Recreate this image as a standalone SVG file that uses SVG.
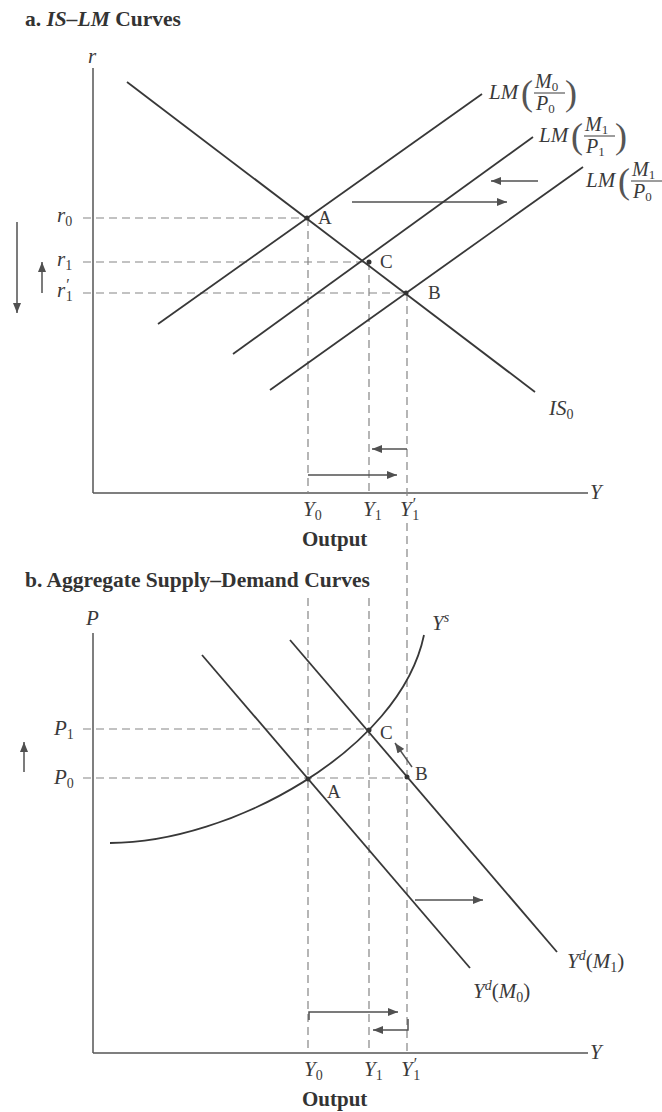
<svg xmlns="http://www.w3.org/2000/svg" width="662" height="1112" viewBox="0 0 662 1112">
<defs>
<style>
.ax{stroke:#555;stroke-width:1.5;fill:none}
.cv{stroke:#383838;stroke-width:1.8;fill:none}
.ds{stroke:#858585;stroke-width:1.2;stroke-dasharray:8 5;fill:none}
.ar{stroke:#505050;stroke-width:1.5;fill:none;marker-end:url(#ah)}
.t{font-family:"Liberation Serif","Times New Roman",serif;fill:#3a3a3a}
.i{font-style:italic}
.n{font-style:normal}
.b{font-weight:bold;fill:#333}
.dot{fill:#333}
.bar{stroke:#3a3a3a;stroke-width:1}
.pa{font-size:36px;fill:#555}
</style>
<marker id="ah" viewBox="0 0 10 8" refX="10" refY="4" markerWidth="11" markerHeight="8" markerUnits="userSpaceOnUse" orient="auto">
<path d="M0,0 L10,4 L0,8 z" fill="#505050"/>
</marker>
</defs>
<rect width="662" height="1112" fill="#fff"/>

<!-- Titles -->
<text id="title-a" class="t b" x="25" y="26" font-size="21.5">a. <tspan font-style="italic">IS–LM</tspan> Curves</text>
<text id="title-b" class="t b" x="25" y="587" font-size="21.5">b.  Aggregate Supply–Demand Curves</text>

<!-- Panel a axes -->
<g id="axes-a">
<line class="ax" x1="93" y1="68" x2="93" y2="493"/>
<line class="ax" x1="93" y1="493" x2="588" y2="493"/>
<text class="t i" x="88" y="63" font-size="21">r</text>
<text class="t i" x="590" y="499" font-size="21">Y</text>
<text class="t b" x="302" y="546" font-size="21">Output</text>
</g>

<!-- Panel b axes -->
<g id="axes-b">
<line class="ax" x1="93" y1="633" x2="93" y2="1053"/>
<line class="ax" x1="93" y1="1053" x2="588" y2="1053"/>
<text class="t i" x="86" y="625" font-size="21">P</text>
<text class="t i" x="590" y="1059" font-size="21">Y</text>
<text class="t b" x="302" y="1106" font-size="21">Output</text>
</g>

<!-- Connectors / guide lines -->
<g id="connectors">
<line class="ds" x1="83" y1="218" x2="307" y2="218"/>
<line class="ds" x1="83" y1="262" x2="369" y2="262"/>
<line class="ds" x1="83" y1="293" x2="406" y2="293"/>
<line class="ds" x1="308" y1="218" x2="308" y2="493"/>
<line class="ds" x1="369" y1="262" x2="369" y2="493"/>
<line class="ds" x1="407" y1="293" x2="407" y2="498"/>
<line class="ds" x1="407" y1="523" x2="407" y2="1053"/>
<line class="ds" x1="83" y1="729" x2="369" y2="729"/>
<line class="ds" x1="83" y1="778" x2="407" y2="778"/>
<line class="ds" x1="308" y1="598" x2="308" y2="1053"/>
<line class="ds" x1="369" y1="598" x2="369" y2="1053"/>

<line class="ar" x1="17" y1="222" x2="17" y2="313"/>
<line class="ar" x1="42" y1="293" x2="42" y2="262"/>
<line class="ar" x1="352" y1="202" x2="507" y2="202"/>
<line class="ar" x1="538" y1="181" x2="491" y2="181"/>
<line class="ar" x1="308" y1="475" x2="397" y2="475"/>
<line class="ar" x1="407" y1="449" x2="372" y2="449"/>

<line class="ar" x1="24" y1="772" x2="24" y2="742"/>
<line class="ar" x1="412" y1="767" x2="395" y2="743"/>
<line class="ar" x1="415" y1="900" x2="483" y2="900"/>
<polyline class="ar" points="309,1020 309,1012 398,1012"/>
<polyline class="ar" points="408,1019 408,1030 373,1030"/>
</g>

<!-- Panel a curves -->
<g id="IS0">
<line class="cv" x1="127" y1="82" x2="535" y2="392"/>
<text class="t i" x="549" y="415" font-size="21">IS<tspan class="n" font-size="14" dy="4">0</tspan></text>
</g>

<g id="LM-M0-P0">
<line class="cv" x1="158" y1="324" x2="482" y2="94"/>
<g class="t">
<text class="i" x="489" y="99" font-size="21">LM</text>
<text class="pa" x="521" y="105">(</text>
<text class="i" x="535" y="88" font-size="20">M<tspan class="n" font-size="13" dy="3">0</tspan></text>
<line class="bar" x1="534" y1="93" x2="565" y2="93"/>
<text class="i" x="536" y="110" font-size="20">P<tspan class="n" font-size="13" dy="3">0</tspan></text>
<text class="pa" x="565" y="105">)</text>
</g>
</g>

<g id="LM-M1-P1">
<line class="cv" x1="233" y1="354" x2="533" y2="137"/>
<g class="t" transform="translate(50,43)">
<text class="i" x="489" y="99" font-size="21">LM</text>
<text class="pa" x="521" y="105">(</text>
<text class="i" x="535" y="88" font-size="20">M<tspan class="n" font-size="13" dy="3">1</tspan></text>
<line class="bar" x1="534" y1="93" x2="565" y2="93"/>
<text class="i" x="536" y="110" font-size="20">P<tspan class="n" font-size="13" dy="3">1</tspan></text>
<text class="pa" x="565" y="105">)</text>
</g>
</g>

<g id="LM-M1-P0">
<line class="cv" x1="270" y1="390" x2="583" y2="167"/>
<g class="t" transform="translate(97,88)">
<text class="i" x="489" y="99" font-size="21">LM</text>
<text class="pa" x="521" y="105">(</text>
<text class="i" x="535" y="88" font-size="20">M<tspan class="n" font-size="13" dy="3">1</tspan></text>
<line class="bar" x1="534" y1="93" x2="565" y2="93"/>
<text class="i" x="536" y="110" font-size="20">P<tspan class="n" font-size="13" dy="3">0</tspan></text>
<text class="pa" x="565" y="105">)</text>
</g>
</g>

<!-- Panel a points -->
<g id="a-A"><circle class="dot" cx="307" cy="218" r="2.5"/><text class="t" x="318" y="224" font-size="19">A</text></g>
<g id="a-C"><circle class="dot" cx="369" cy="262" r="2.5"/><text class="t" x="380" y="268" font-size="19">C</text></g>
<g id="a-B"><circle class="dot" cx="406" cy="293" r="2.5"/><text class="t" x="428" y="299" font-size="19">B</text></g>

<!-- Panel a axis tick labels -->
<g id="a-rlabels" class="t">
<text class="i" x="57" y="222" font-size="21">r<tspan class="n" font-size="14" dy="4">0</tspan></text>
<text class="i" x="57" y="266" font-size="21">r<tspan class="n" font-size="14" dy="4">1</tspan></text>
<text class="i" x="57" y="297" font-size="21">r<tspan font-size="16" dy="-7">′</tspan><tspan class="n" font-size="14" dx="-3" dy="11">1</tspan></text>
</g>
<g id="a-ylabels" class="t">
<text class="i" x="303" y="516" font-size="21">Y<tspan class="n" font-size="14" dy="4">0</tspan></text>
<text class="i" x="363" y="516" font-size="21">Y<tspan class="n" font-size="14" dy="4">1</tspan></text>
<text class="i" x="400" y="516" font-size="21">Y<tspan font-size="16" dy="-7">′</tspan><tspan class="n" font-size="14" dx="-3" dy="11">1</tspan></text>
</g>

<!-- Panel b curves -->
<g id="Ys">
<path class="cv" d="M110,843 C230,843 400,750 424,635"/>
<text class="t i" x="432" y="630" font-size="21">Y<tspan font-size="14" dy="-8">s</tspan></text>
</g>
<g id="Yd-M0">
<line class="cv" x1="202" y1="655" x2="470" y2="968"/>
<text class="t i" x="473" y="998" font-size="21">Y<tspan font-size="14" dy="-8">d</tspan><tspan class="n" dy="8">(</tspan>M<tspan class="n" font-size="14" dy="4">0</tspan><tspan class="n" dy="-4">)</tspan></text>
</g>
<g id="Yd-M1">
<line class="cv" x1="290" y1="640" x2="557" y2="952"/>
<text class="t i" x="567" y="968" font-size="21">Y<tspan font-size="14" dy="-8">d</tspan><tspan class="n" dy="8">(</tspan>M<tspan class="n" font-size="14" dy="4">1</tspan><tspan class="n" dy="-4">)</tspan></text>
</g>

<!-- Panel b points -->
<g id="b-A"><circle class="dot" cx="308" cy="779" r="2.5"/><text class="t" x="327" y="798" font-size="19">A</text></g>
<g id="b-C"><circle class="dot" cx="369" cy="730" r="2.5"/><text class="t" x="380" y="739" font-size="19">C</text></g>
<g id="b-B"><circle class="dot" cx="407" cy="777" r="2.5"/><text class="t" x="415" y="780" font-size="19">B</text></g>

<!-- Panel b axis labels -->
<g id="b-plabels" class="t">
<text class="i" x="54" y="735" font-size="21">P<tspan class="n" font-size="14" dy="4">1</tspan></text>
<text class="i" x="54" y="784" font-size="21">P<tspan class="n" font-size="14" dy="4">0</tspan></text>
</g>
<g id="b-ylabels" class="t">
<text class="i" x="304" y="1076" font-size="21">Y<tspan class="n" font-size="14" dy="4">0</tspan></text>
<text class="i" x="364" y="1076" font-size="21">Y<tspan class="n" font-size="14" dy="4">1</tspan></text>
<text class="i" x="401" y="1076" font-size="21">Y<tspan font-size="16" dy="-7">′</tspan><tspan class="n" font-size="14" dx="-3" dy="11">1</tspan></text>
</g>
</svg>
